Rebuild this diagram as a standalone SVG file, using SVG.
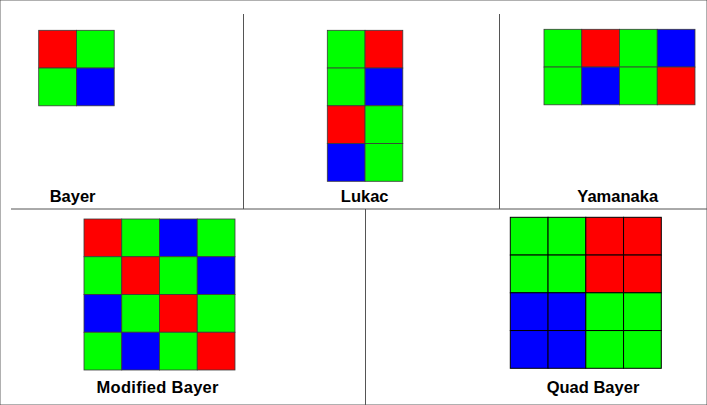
<svg xmlns="http://www.w3.org/2000/svg" width="707" height="405" viewBox="0 0 707 405">
<style>
.r{fill:#FF0000}.g{fill:#00FF00}.b{fill:#0000FF}
rect{stroke:#3a3a3a;stroke-width:0.8}
.q rect{stroke:#000;stroke-width:1}
.lbl{font-family:"Liberation Sans",Arial,sans-serif;font-weight:bold;font-size:16.5px;fill:#000;text-anchor:middle}
.sep{stroke:#555;stroke-width:1;fill:none}
</style>
<rect width="707" height="405" fill="#fff" stroke="none"/>
<g id="dividers">
<line class="sep" x1="243.5" y1="14" x2="243.5" y2="209"/>
<line class="sep" x1="499.5" y1="14" x2="499.5" y2="209"/>
<line class="sep" x1="11" y1="209" x2="707" y2="209"/>
<line class="sep" x1="365.5" y1="209" x2="365.5" y2="405"/>
</g>
<g id="bayer" transform="translate(38.7,30.3)">
<rect class="r" x="0" y="0" width="37.75" height="37.75"/>
<rect class="g" x="37.75" y="0" width="37.75" height="37.75"/>
<rect class="g" x="0" y="37.75" width="37.75" height="37.75"/>
<rect class="b" x="37.75" y="37.75" width="37.75" height="37.75"/>
</g>
<text class="lbl" x="72.6" y="201.5">Bayer</text>
<g id="lukac" transform="translate(327.3,30.3)">
<rect class="g" x="0" y="0" width="37.75" height="37.75"/>
<rect class="r" x="37.75" y="0" width="37.75" height="37.75"/>
<rect class="g" x="0" y="37.75" width="37.75" height="37.75"/>
<rect class="b" x="37.75" y="37.75" width="37.75" height="37.75"/>
<rect class="r" x="0" y="75.5" width="37.75" height="37.75"/>
<rect class="g" x="37.75" y="75.5" width="37.75" height="37.75"/>
<rect class="b" x="0" y="113.25" width="37.75" height="37.75"/>
<rect class="g" x="37.75" y="113.25" width="37.75" height="37.75"/>
</g>
<text class="lbl" x="364.7" y="201.5">Lukac</text>
<g id="yamanaka" transform="translate(544,29.3)">
<rect class="g" x="0" y="0" width="37.75" height="37.75"/>
<rect class="r" x="37.75" y="0" width="37.75" height="37.75"/>
<rect class="g" x="75.5" y="0" width="37.75" height="37.75"/>
<rect class="b" x="113.25" y="0" width="37.75" height="37.75"/>
<rect class="g" x="0" y="37.75" width="37.75" height="37.75"/>
<rect class="b" x="37.75" y="37.75" width="37.75" height="37.75"/>
<rect class="g" x="75.5" y="37.75" width="37.75" height="37.75"/>
<rect class="r" x="113.25" y="37.75" width="37.75" height="37.75"/>
</g>
<text class="lbl" x="617.7" y="201.5">Yamanaka</text>
<g id="modified-bayer" transform="translate(84,219)">
<rect class="r" x="0" y="0" width="37.75" height="37.75"/>
<rect class="g" x="37.75" y="0" width="37.75" height="37.75"/>
<rect class="b" x="75.5" y="0" width="37.75" height="37.75"/>
<rect class="g" x="113.25" y="0" width="37.75" height="37.75"/>
<rect class="g" x="0" y="37.75" width="37.75" height="37.75"/>
<rect class="r" x="37.75" y="37.75" width="37.75" height="37.75"/>
<rect class="g" x="75.5" y="37.75" width="37.75" height="37.75"/>
<rect class="b" x="113.25" y="37.75" width="37.75" height="37.75"/>
<rect class="b" x="0" y="75.5" width="37.75" height="37.75"/>
<rect class="g" x="37.75" y="75.5" width="37.75" height="37.75"/>
<rect class="r" x="75.5" y="75.5" width="37.75" height="37.75"/>
<rect class="g" x="113.25" y="75.5" width="37.75" height="37.75"/>
<rect class="g" x="0" y="113.25" width="37.75" height="37.75"/>
<rect class="b" x="37.75" y="113.25" width="37.75" height="37.75"/>
<rect class="g" x="75.5" y="113.25" width="37.75" height="37.75"/>
<rect class="r" x="113.25" y="113.25" width="37.75" height="37.75"/>
</g>
<text class="lbl" x="157.5" y="393" textLength="122" lengthAdjust="spacing">Modified Bayer</text>
<g id="quad-bayer" class="q" transform="translate(510.3,217.3)">
<rect class="g" x="0" y="0" width="37.75" height="37.75"/>
<rect class="g" x="37.75" y="0" width="37.75" height="37.75"/>
<rect class="r" x="75.5" y="0" width="37.75" height="37.75"/>
<rect class="r" x="113.25" y="0" width="37.75" height="37.75"/>
<rect class="g" x="0" y="37.75" width="37.75" height="37.75"/>
<rect class="g" x="37.75" y="37.75" width="37.75" height="37.75"/>
<rect class="r" x="75.5" y="37.75" width="37.75" height="37.75"/>
<rect class="r" x="113.25" y="37.75" width="37.75" height="37.75"/>
<rect class="b" x="0" y="75.5" width="37.75" height="37.75"/>
<rect class="b" x="37.75" y="75.5" width="37.75" height="37.75"/>
<rect class="g" x="75.5" y="75.5" width="37.75" height="37.75"/>
<rect class="g" x="113.25" y="75.5" width="37.75" height="37.75"/>
<rect class="b" x="0" y="113.25" width="37.75" height="37.75"/>
<rect class="b" x="37.75" y="113.25" width="37.75" height="37.75"/>
<rect class="g" x="75.5" y="113.25" width="37.75" height="37.75"/>
<rect class="g" x="113.25" y="113.25" width="37.75" height="37.75"/>
</g>
<text class="lbl" x="593" y="393">Quad Bayer</text>
</svg>
